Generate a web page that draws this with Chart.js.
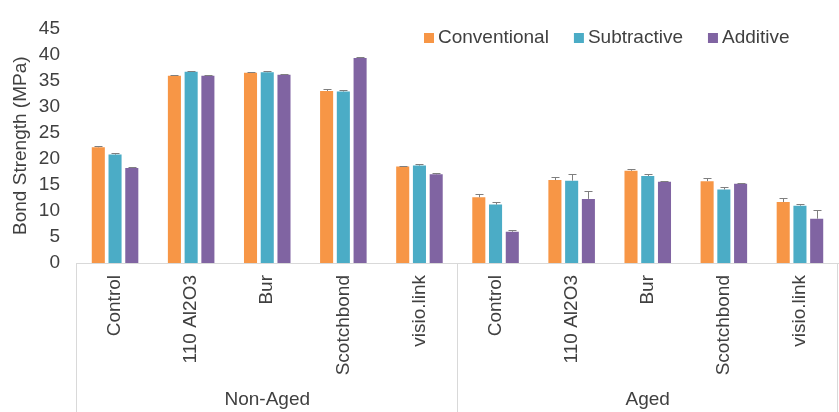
<!DOCTYPE html>
<html>
<head>
<meta charset="utf-8">
<script src="https://cdn.jsdelivr.net/npm/chart.js@4.4.1/dist/chart.umd.min.js"></script>
<style>
  html, body { margin: 0; padding: 0; background: #fff; }
  #wrap { width: 839px; height: 412px; position: relative; }
</style>
</head>
<body>
<div id="wrap"><canvas id="bondChart"></canvas></div>
<script>
// Data
const categories = ['Control', '110 Al2O3', 'Bur', 'Scotchbond', 'visio.link',
                    'Control', '110 Al2O3', 'Bur', 'Scotchbond', 'visio.link'];
const groups = ['Non-Aged', 'Aged'];
const groupSizes = [5, 5];

const conventional = [22.2, 35.9, 36.5, 33.0, 18.5, 12.6, 15.9, 17.7, 15.7, 11.7];
const subtractive  = [20.8, 36.7, 36.6, 32.9, 18.7, 11.2, 15.8, 16.7, 14.1, 11.0];
const additive     = [18.2, 35.9, 36.1, 39.3, 17.0, 6.0, 12.3, 15.6, 15.2, 8.5];

const conventionalErr = [0.2, 0.2, 0.2, 0.3, 0.2, 0.55, 0.6, 0.4, 0.6, 0.8];
const subtractiveErr  = [0.3, 0.2, 0.2, 0.3, 0.2, 0.5, 1.2, 0.3, 0.5, 0.4];
const additiveErr     = [0.2, 0.2, 0.2, 0.2, 0.2, 0.25, 1.6, 0.1, 0.1, 1.6];

const yTicks = [0, 5, 10, 15, 20, 25, 30, 35, 40, 45];

const colors = {
    conventional: '#F79646',
    subtractive: '#4BACC6',
    additive: '#8064A2',
    text: '#404040',
    axis: '#D9D9D9',
    errBar: '#7F7F7F'
};

const FONT = "'Liberation Sans', Arial, sans-serif";
const FONT_SIZE = 19;
Chart.defaults.font.family = FONT;
Chart.defaults.font.size = FONT_SIZE;
Chart.defaults.color = colors.text;

// Upper error bars
const errorBars = {
    id: 'errorBars',
    afterDatasetsDraw(chart) {
        const ctx = chart.ctx;
        const yScale = chart.scales.y;
        ctx.save();
        ctx.strokeStyle = colors.errBar;
        ctx.lineWidth = 1;
        chart.data.datasets.forEach((ds, i) => {
            const meta = chart.getDatasetMeta(i);
            meta.data.forEach((bar, j) => {
                const top = Math.round(yScale.getPixelForValue(ds.data[j] + ds.errors[j])) + 0.5;
                const x = Math.round(bar.x) + 0.5;
                ctx.beginPath();
                ctx.moveTo(x, bar.y);
                ctx.lineTo(x, top);
                ctx.moveTo(x - 4, top);
                ctx.lineTo(x + 4, top);
                ctx.stroke();
            });
        });
        ctx.restore();
    }
};

// Group separators, group labels and the legend inside the plot
const groupAxis = {
    id: 'groupAxis',
    afterDraw(chart) {
        const ctx = chart.ctx;
        const xScale = chart.scales.x;
        const area = chart.chartArea;
        const bottom = chart.height;
        ctx.save();
        ctx.strokeStyle = colors.axis;
        ctx.lineWidth = 1;

        let start = 0;
        const bounds = [area.left];
        groupSizes.forEach((n, g) => {
            const last = start + n - 1;
            let right;
            if (last === categories.length - 1) {
                right = area.right;
            } else {
                right = (xScale.getPixelForTick(last) + xScale.getPixelForTick(last + 1)) / 2;
            }
            bounds.push(right);
            const left = bounds[g];
            ctx.fillStyle = colors.text;
            ctx.font = FONT_SIZE + 'px ' + FONT;
            ctx.textAlign = 'center';
            ctx.textBaseline = 'middle';
            ctx.fillText(groups[g], (left + right) / 2, 400);
            start += n;
        });
        bounds.forEach(b => {
            const x = Math.round(b) - 0.5;
            ctx.beginPath();
            ctx.moveTo(x, area.bottom);
            ctx.lineTo(x, bottom);
            ctx.stroke();
        });

        // legend
        ctx.font = FONT_SIZE + 'px ' + FONT;
        ctx.textAlign = 'left';
        ctx.textBaseline = 'middle';
        let lx = 424;
        const ly = 38;
        chart.data.datasets.forEach(ds => {
            ctx.fillStyle = ds.backgroundColor;
            ctx.fillRect(lx, ly - 5, 10, 10);
            ctx.fillStyle = colors.text;
            ctx.fillText(ds.label, lx + 14, ly);
            lx += 14 + ctx.measureText(ds.label).width + 25;
        });
        ctx.restore();
    }
};

const bondCtx = document.getElementById('bondChart');
new Chart(bondCtx, {
    type: 'bar',
    data: {
        labels: categories,
        datasets: [
            { label: 'Conventional', data: conventional, errors: conventionalErr, backgroundColor: colors.conventional },
            { label: 'Subtractive', data: subtractive, errors: subtractiveErr, backgroundColor: colors.subtractive },
            { label: 'Additive', data: additive, errors: additiveErr, backgroundColor: colors.additive }
        ]
    },
    options: {
        responsive: true,
        maintainAspectRatio: false,
        animation: false,
        datasets: {
            bar: {
                categoryPercentage: 0.66,
                barPercentage: 0.78
            }
        },
        layout: {
            padding: { top: 20, right: 1, bottom: 0, left: 0 }
        },
        plugins: {
            legend: { display: false },
            tooltip: { enabled: false }
        },
        scales: {
            x: {
                grid: { display: false, drawTicks: false },
                border: { display: true, color: colors.axis },
                ticks: {
                    autoSkip: false,
                    minRotation: 90,
                    maxRotation: 90,
                    padding: 12
                },
                afterFit(scale) {
                    scale.height = 149;
                }
            },
            y: {
                min: 0,
                max: 45,
                grid: { display: false, drawTicks: false },
                border: { display: false },
                afterBuildTicks(scale) {
                    scale.ticks = yTicks.map(v => ({ value: v }));
                },
                ticks: {
                    padding: 17
                },
                title: {
                    display: true,
                    text: 'Bond Strength (MPa)',
                    padding: { top: 9, bottom: 0 }
                },
                afterFit(scale) {
                    scale.width = 77;
                }
            }
        }
    },
    plugins: [errorBars, groupAxis]
});
</script>
</body>
</html>
